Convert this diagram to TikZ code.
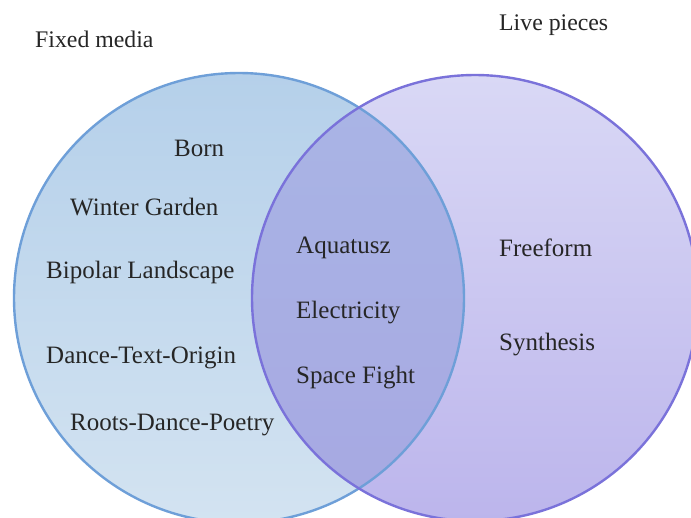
\documentclass[tikz,border=0pt]{standalone}
\usepackage{fontspec}
\setmainfont{Liberation Serif}
\definecolor{fixedline}{HTML}{6E9FD8}
\definecolor{fixedtop}{HTML}{B5D0EA}
\definecolor{fixedbot}{HTML}{D3E3F1}
\definecolor{liveline}{HTML}{7A72DA}
\definecolor{livetop}{HTML}{D9D8F5}
\definecolor{livebot}{HTML}{BCB5EC}
\definecolor{bothtop}{HTML}{A9B5E5}
\definecolor{bothbot}{HTML}{A7A8E2}
\tikzset{
  piece/.style={anchor=west, inner sep=0pt, text=black!85, font=\fontsize{25}{29}\selectfont},
  group/.style={anchor=west, inner sep=0pt, text=black!85, font=\fontsize{23.8}{28}\selectfont},
}
\begin{document}
\begin{tikzpicture}[x=1pt,y=-1pt]
        \useasboundingbox (0,0) rectangle (691,517);
        \fill[white] (0,0) rectangle (691,517);
        % the two sets
        \fill[top color=fixedtop,bottom color=fixedbot] (239,298) circle[radius=225pt];
        \fill[top color=livetop,bottom color=livebot] (475,298) circle[radius=223pt];
        \begin{scope}
          \clip (239,298) circle[radius=225pt];
          \fill[top color=bothtop,bottom color=bothbot] (475,298) circle[radius=223pt];
        \end{scope}
        \draw[fixedline,line width=2.4pt] (239,298) circle[radius=225pt];
        \draw[liveline,line width=2.4pt] (475,298) circle[radius=223pt];

        % set titles
        \node[group] (fixed) at (35,39) {Fixed media};
        \node[group] (live) at (499,25) {Live pieces};

        % fixed media only
        \node[piece] (born)    at (174,148) {Born};
        \node[piece] (winter)  at (70,207)  {Winter Garden};
        \node[piece] (bipolar) at (46,272)  {Bipolar Landscape};
        \node[piece] (dance)   at (46,358)  {Dance-Text-Origin};
        \node[piece] (roots)   at (70,425)  {Roots-Dance-Poetry};
        % both
        \node[piece] (aqua)    at (296,248) {Aquatusz};
        \node[piece] (elec)    at (296,313) {Electricity};
        \node[piece] (space)   at (296,378) {Space Fight};
        % live pieces only
        \node[piece] (free)    at (499,248) {Freeform};
        \node[piece] (synth)   at (499,345) {Synthesis};
\end{tikzpicture}
\end{document}
